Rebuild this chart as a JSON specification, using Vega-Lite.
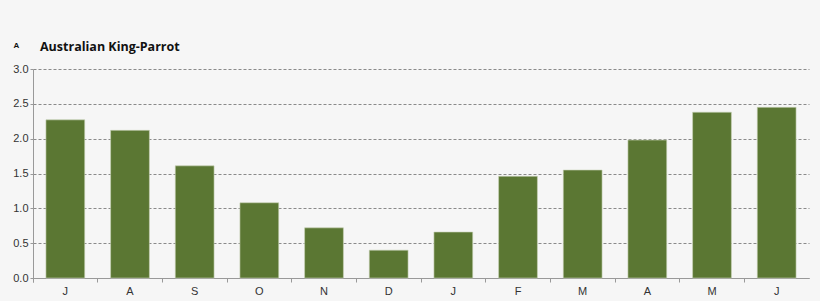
{
  "$schema": "https://vega.github.io/schema/vega-lite/v6.json",
  "width": 776,
  "height": 209,
  "autosize": {"type": "none"},
  "padding": {"left": 33, "top": 69, "right": 11, "bottom": 23},
  "background": "#f6f6f6",
  "title": {
    "text": "Australian King-Parrot",
    "anchor": "start",
    "frame": "group",
    "dx": 7,
    "offset": -12,
    "font": "Open Sans",
    "fontSize": 12.5,
    "fontWeight": "bold",
    "color": "#111111"
  },
  "data": {
    "values": [
      {"idx": 1, "month": "J", "value": 2.27},
      {"idx": 2, "month": "A", "value": 2.12},
      {"idx": 3, "month": "S", "value": 1.61},
      {"idx": 4, "month": "O", "value": 1.08},
      {"idx": 5, "month": "N", "value": 0.72},
      {"idx": 6, "month": "D", "value": 0.40},
      {"idx": 7, "month": "J", "value": 0.66},
      {"idx": 8, "month": "F", "value": 1.46},
      {"idx": 9, "month": "M", "value": 1.55},
      {"idx": 10, "month": "A", "value": 1.98},
      {"idx": 11, "month": "M", "value": 2.38},
      {"idx": 12, "month": "J", "value": 2.45}
    ]
  },
  "config": {
    "view": {"stroke": null},
    "axis": {
      "labelFont": "Liberation Sans",
      "labelFontSize": 11,
      "labelColor": "#333333",
      "domainColor": "#999999",
      "tickColor": "#999999"
    }
  },
  "mark": {"type": "bar", "color": "#5b7733", "width": {"band": 0.6}, "stroke": "#c9d4b8", "strokeWidth": 0.6},
  "encoding": {
    "x": {
      "field": "idx",
      "type": "ordinal",
      "scale": {"paddingInner": 0, "paddingOuter": 0},
      "axis": {
        "title": null,
        "labelExpr": "['J','A','S','O','N','D','J','F','M','A','M','J'][datum.value - 1]",
        "labelAngle": 0,
        "bandPosition": 0,
        "tickExtra": true,
        "tickSize": 4,
        "labelPadding": 3,
        "grid": false
      }
    },
    "y": {
      "field": "value",
      "type": "quantitative",
      "scale": {"domain": [0, 3]},
      "axis": {
        "values": [0, 0.5, 1, 1.5, 2, 2.5, 3],
        "format": ".1f",
        "title": "A",
        "titleAngle": 0,
        "titleAlign": "left",
        "titleBaseline": "alphabetic",
        "titleX": -20,
        "titleY": -22,
        "titleFont": "Liberation Sans",
        "titleFontSize": 8,
        "titleFontWeight": "bold",
        "titleColor": "#111111",
        "tickSize": 3,
        "labelPadding": 2,
        "grid": true,
        "gridColor": "#8a8a8a",
        "gridDash": [3, 2],
        "gridWidth": 1
      }
    }
  }
}
